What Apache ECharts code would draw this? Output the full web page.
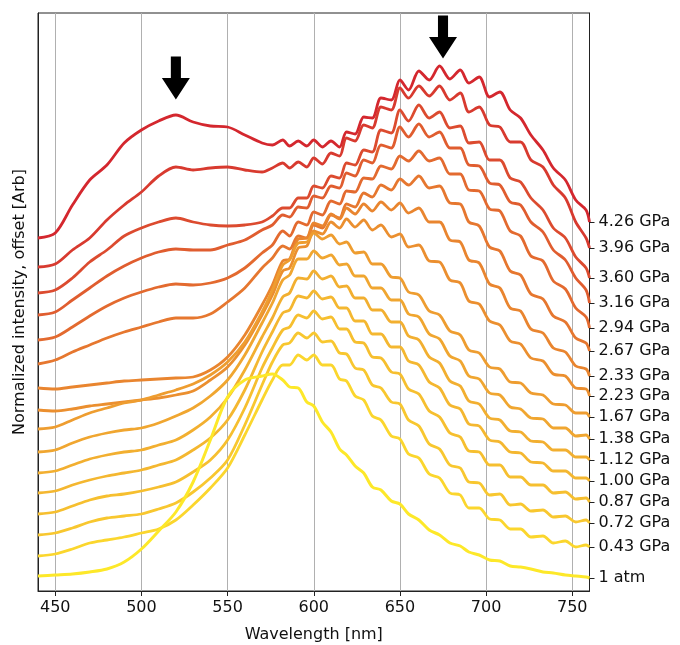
<!DOCTYPE html>
<html>
<head>
<meta charset="utf-8">
<script src="https://cdn.jsdelivr.net/npm/echarts@6/dist/echarts.min.js"></script>
<style>
html, body { margin: 0; padding: 0; background: #fff; }
#chart { width: 680px; height: 645px; }
</style>
</head>
<body>
<div id="chart"></div>
<script>
// Wavelength sampling (nm); the red part follows the interference fringes
const wavelength = [440,450,460,470,480,490,500,510,520,530,540,550,560,570,576,
  582,586,591,596,600,605,610,615,619,624,629,634,639,645,650,655,661,667,673,679,
  685,690,696,702,708,714,720,726,733,739,746,752,758,760];

// Normalized emission spectra, each already shifted by its stacking offset
const atm1 = [1.5,1.6,1.7,1.9,2.2,2.9,4.2,6.0,7.9,10.9,15.1,19.4,21.1,21.5,21.7,21.1,20.4,20.3,18.9,18.5,16.9,15.9,14.2,13.6,12.5,11.8,10.4,10.1,9.0,8.7,7.7,7.1,6.1,5.6,4.8,4.5,3.9,3.6,3.1,3.0,2.5,2.4,2.2,1.9,1.8,1.6,1.5,1.4,1.3];
const p043 = [3.5,3.7,4.2,4.8,5.1,5.4,5.8,6.2,7.1,8.6,10.3,12.3,15.6,19.1,21.1,22.6,22.6,23.6,23.1,23.6,22.6,22.6,21.2,21.0,19.5,19.1,17.5,17.1,15.5,15.2,13.7,13.3,11.7,11.3,9.8,9.6,8.3,8.3,7.2,7.1,6.2,6.2,5.4,5.5,4.8,5.0,4.4,4.6,4.4];
const p072 = [5.6,5.8,6.3,6.9,7.3,7.5,7.7,8.2,8.8,9.9,11.3,13.1,16.6,20.6,22.9,24.6,24.8,25.8,25.3,25.8,24.9,25.0,23.8,23.7,22.3,22.1,20.6,20.3,18.9,18.7,17.1,16.5,14.7,14.2,12.6,12.3,10.9,10.8,9.6,9.7,8.6,8.7,8.0,8.1,7.4,7.5,6.9,7.1,6.8];
const p087 = [7.7,7.9,8.5,9.1,9.5,9.7,10.0,10.4,10.9,11.9,13.1,15.1,18.3,22.3,24.3,26.1,26.4,27.6,27.3,28.0,27.2,27.4,26.2,26.2,24.9,24.8,23.4,23.3,21.9,21.7,20.2,19.7,18.0,17.4,15.8,15.4,14.0,13.9,12.6,12.6,11.4,11.4,10.6,10.6,9.8,9.9,9.2,9.3,8.9];
const p100 = [9.8,10.0,10.6,11.1,11.5,11.8,12.1,12.6,13.1,14.1,15.3,17.1,20.1,23.9,25.9,27.8,28.1,29.5,29.3,30.0,29.2,29.4,28.3,28.3,27.0,27.0,25.7,25.7,24.4,24.4,23.0,22.6,20.9,20.3,18.6,18.2,16.7,16.5,15.1,14.9,13.9,13.8,12.9,12.8,12.0,12.0,11.3,11.3,11.0];
const p112 = [11.8,12.0,12.6,13.2,13.6,13.9,14.1,14.6,15.1,16.1,17.4,19.3,22.1,25.4,27.3,29.4,29.8,31.3,31.2,32.0,31.2,31.5,30.4,30.5,29.3,29.3,28.1,28.1,26.9,26.9,25.5,25.1,23.4,22.8,21.0,20.5,19.0,18.7,17.3,17.1,16.0,15.9,15.0,14.9,14.1,14.1,13.4,13.4,13.1];
const p138 = [13.9,14.1,14.8,15.4,15.8,16.1,16.3,16.8,17.5,18.3,19.5,21.1,23.6,26.8,28.8,31.1,31.6,33.2,33.2,34.0,33.3,33.6,32.6,32.7,31.5,31.5,30.3,30.3,29.1,29.1,27.7,27.4,25.7,25.2,23.5,23.0,21.5,21.2,19.8,19.6,18.4,18.2,17.3,17.2,16.3,16.3,15.5,15.6,15.2];
const p167 = [16.2,16.4,17.1,17.8,18.3,18.8,19.1,19.6,20.1,20.7,21.6,22.9,24.9,27.9,30.1,32.6,33.1,34.8,34.9,35.8,35.2,35.6,34.7,34.9,33.8,33.9,32.7,32.7,31.4,31.3,29.9,29.6,28.0,27.6,26.0,25.6,24.1,23.8,22.4,22.2,20.9,20.8,19.8,19.6,18.7,18.6,17.8,17.8,17.4];
const p223 = [18.1,18.0,18.2,18.5,18.7,18.9,19.1,19.3,19.6,20.0,21.1,22.4,24.6,27.6,29.6,32.0,32.3,34.3,34.5,36.0,35.7,36.9,36.3,37.2,36.4,37.1,36.1,36.6,35.4,35.7,34.4,34.6,33.0,32.9,31.1,30.8,29.0,28.7,27.0,26.6,25.0,24.7,23.3,23.0,21.7,21.5,20.3,20.2,19.5];
const p233 = [20.3,20.2,20.4,20.6,20.8,21.0,21.1,21.2,21.3,21.4,22.1,23.4,25.6,28.6,30.6,33.0,33.2,35.2,35.3,36.8,36.5,37.7,37.2,38.3,37.7,38.7,38.0,38.9,38.1,38.8,37.8,38.3,36.9,36.9,35.1,34.9,33.1,32.8,30.7,30.3,28.3,28.0,26.2,25.8,24.3,23.9,22.5,22.2,21.5];
const p267 = [22.7,23.1,23.9,24.6,25.3,25.9,26.4,26.9,27.3,27.3,27.7,28.9,30.3,32.3,33.3,34.5,34.2,35.5,35.3,36.6,36.3,37.6,37.3,38.7,38.4,39.8,39.4,40.6,40.1,41.2,40.6,41.5,40.3,40.5,38.8,38.7,36.9,36.5,34.4,34.0,32.0,31.6,29.7,29.2,27.5,26.9,25.3,24.8,24.0];
const p294 = [25.1,25.4,26.4,27.5,28.5,29.3,29.9,30.4,30.7,30.6,30.8,31.3,32.3,33.8,34.6,36.0,35.5,36.9,36.6,37.9,37.6,39.0,38.7,40.0,39.9,41.3,41.2,42.5,42.2,43.5,43.0,44.0,43.0,43.3,41.7,41.7,40.1,40.0,38.2,38.0,36.0,35.5,33.5,33.0,31.0,30.2,28.3,27.4,26.3];
const p316 = [27.6,27.9,29.1,30.3,31.5,32.5,33.3,33.9,34.2,34.1,34.1,34.6,35.1,36.1,36.6,37.6,37.4,38.4,38.3,39.5,39.3,40.5,40.3,41.8,41.5,43.1,42.8,44.6,44.3,46.4,45.4,46.7,45.4,45.9,44.3,44.3,42.6,42.5,40.8,40.6,38.9,38.6,36.9,35.9,34.1,33.1,31.3,30.1,28.8];
const p360 = [29.8,30.1,31.3,32.9,34.1,35.5,36.3,36.9,37.3,36.9,36.6,36.5,36.6,36.9,37.5,38.3,38.3,39.3,39.3,40.5,40.3,41.5,41.3,42.8,42.6,44.1,43.9,46.1,45.8,48.1,47.0,48.6,47.3,47.9,46.3,46.5,44.8,44.9,43.1,43.1,41.3,40.9,39.3,38.1,36.3,35.3,33.4,32.3,31.3];
const p396 = [32.4,32.7,34.1,35.3,37.1,38.6,39.9,41.5,42.4,42.1,42.3,42.4,42.1,41.9,42.3,42.8,42.3,42.9,42.4,43.3,42.7,43.8,43.5,45.3,45.0,46.6,46.3,48.4,48.1,50.3,49.3,50.5,49.5,50.5,49.1,49.8,47.9,48.4,46.6,46.4,44.9,44.9,43.1,42.4,40.6,39.3,36.9,35.3,34.3];
const p426 = [35.3,35.8,38.6,41.1,42.6,44.8,46.1,47.0,47.6,46.9,46.5,46.4,45.6,44.8,44.6,45.1,44.5,45.0,44.5,45.1,44.4,45.0,44.4,45.9,45.7,47.4,47.3,49.3,49.1,51.1,50.1,52.0,51.1,52.5,51.2,52.1,50.8,51.4,49.4,49.9,48.1,47.3,45.6,44.1,42.3,41.1,39.1,38.1,36.9];

// Pressure of each spectrum, low to high
const pressureLabels = ['1 atm','0.43 GPa','0.72 GPa','0.87 GPa','1.00 GPa','1.12 GPa','1.38 GPa','1.67 GPa',
  '2.23 GPa','2.33 GPa','2.67 GPa','2.94 GPa','3.16 GPa','3.60 GPa','3.96 GPa','4.26 GPa'];
const spectra = [atm1,p043,p072,p087,p100,p112,p138,p167,p223,p233,p267,p294,p316,p360,p396,p426];

// Yellow-to-red ramp following pressure
const lineColors = ['#fde829','#fbd62d','#f8c72f','#f6bf2f','#f4b730','#f2af30','#f0a630','#ee9d30',
  '#eb8f2f','#e9852f','#e6772f','#e36a2f','#e05d2f','#dc4b2f','#d83a2f','#d4272e'];

// Band markers: [wavelength, height]
const arrowMarks = [[520, 51.3], [675, 55.4]];

const xTicks = [450, 500, 550, 600, 650, 700, 750];

// Pressure labels sit where each spectrum ends
const endValues = spectra.map(s => s[s.length - 1]);
function labelFor(v) {
  for (let i = 0; i < endValues.length; i++) {
    if (Math.abs(endValues[i] - v) < 1e-9) return pressureLabels[i];
  }
  return '';
}

const FONT = 'DejaVu Sans';
const arrowPath = 'path://M3.2,0 L6.8,0 L6.8,10 L10,10 L5,20 L0,10 L3.2,10 Z';

const series = [];
for (let i = spectra.length - 1; i >= 0; i--) {
  const s = {
    name: pressureLabels[i],
    type: 'line',
    data: wavelength.map((w, k) => [w, spectra[i][k]]),
    showSymbol: false,
    smooth: 0.3,
    yAxisIndex: 0,
    lineStyle: { color: lineColors[i], width: i === 0 ? 3 : 2.8 },
    itemStyle: { color: lineColors[i] },
    silent: true,
    z: 2
  };
  if (i === spectra.length - 1) {
    s.markPoint = {
      symbol: arrowPath,
      symbolSize: [28, 43],
      symbolKeepAspect: false,
      silent: true,
      label: { show: false },
      itemStyle: { color: '#000' },
      data: arrowMarks.map(p => ({ coord: p }))
    };
  }
  series.push(s);
}

const chart = echarts.init(document.getElementById('chart'), null, { renderer: 'canvas' });
chart.setOption({
  animation: false,
  backgroundColor: '#fff',
  grid: {
    left: 38, right: 90.5, top: 13, bottom: 54,
    outerBoundsMode: 'none', containLabel: false,
    show: true, borderColor: '#222', borderWidth: 1, backgroundColor: 'transparent'
  },
  xAxis: {
    type: 'value', min: 440, max: 760,
    name: 'Wavelength [nm]', nameLocation: 'middle', nameGap: 36,
    nameTextStyle: { fontFamily: FONT, fontSize: 16, color: '#111' },
    axisLine: { show: true, lineStyle: { color: '#222', width: 1 } },
    axisTick: { show: true, customValues: xTicks, length: 5, lineStyle: { color: '#222' } },
    axisLabel: { customValues: xTicks, margin: 9, fontFamily: FONT, fontSize: 16, color: '#111' },
    splitLine: { show: true, lineStyle: { color: '#b0b0b0', width: 1 } }
  },
  yAxis: [
    {
      type: 'value', min: 0, max: 57.8, position: 'right',
      axisLine: { show: true, lineStyle: { color: '#222', width: 1 } },
      axisTick: { show: true, customValues: endValues, length: 5, lineStyle: { color: '#222' } },
      axisLabel: { customValues: endValues, margin: 9, fontFamily: FONT, fontSize: 16, color: '#111', formatter: labelFor },
      splitLine: { show: false }
    },
    {
      type: 'value', min: 0, max: 57.8, position: 'left',
      name: 'Normalized intensity, offset [Arb]', nameLocation: 'middle', nameGap: 10, nameRotate: 90,
      nameTextStyle: { fontFamily: FONT, fontSize: 16, color: '#111' },
      axisLine: { show: true, lineStyle: { color: '#222', width: 1 } },
      axisTick: { show: false },
      axisLabel: { show: false },
      splitLine: { show: false }
    }
  ],
  series: series
});
</script>
</body>
</html>
